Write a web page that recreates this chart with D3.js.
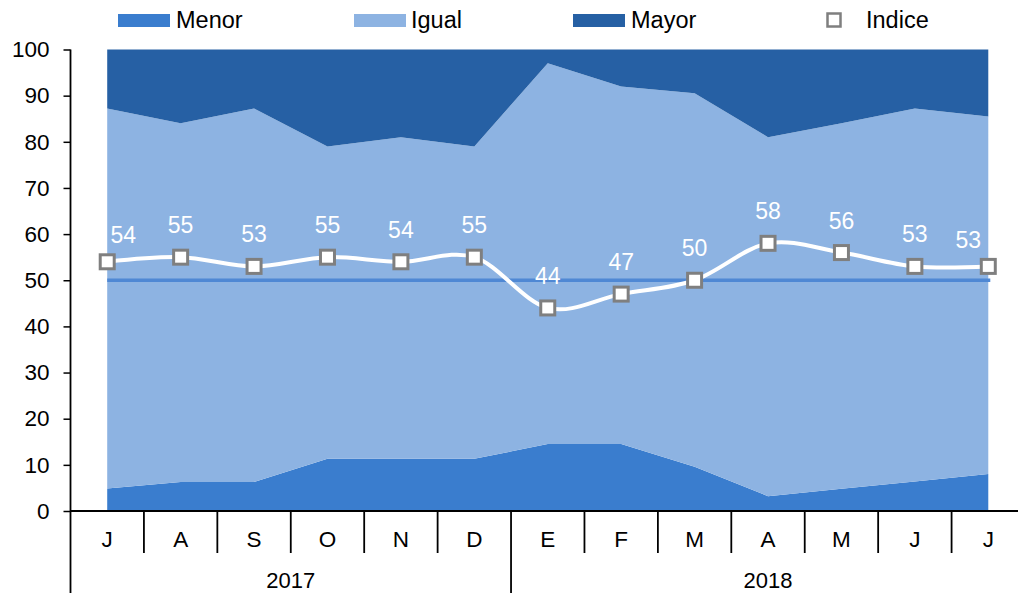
<!DOCTYPE html>
<html>
<head>
<meta charset="utf-8">
<script src="https://cdn.jsdelivr.net/npm/d3@7"></script>
<style>
  html, body { margin: 0; padding: 0; background: #fff; }
  svg text { font-family: "Liberation Sans", Arial, sans-serif; }
</style>
</head>
<body>
<div id="chart"></div>
<script>
// datos
const months = ['J', 'A', 'S', 'O', 'N', 'D', 'E', 'F', 'M', 'A', 'M', 'J', 'J'];
const years = ['2017', '2018'];
const yearStart = [0, 6];          // indice del primer mes de cada año
const menor = [4.9, 6.3, 6.3, 11.3, 11.3, 11.3, 14.5, 14.5, 9.6, 3.2, 4.8, 6.4, 8.0];
const igual = [82.3, 77.7, 80.9, 67.7, 69.7, 67.7, 82.5, 77.5, 80.9, 77.8, 79.2, 80.8, 77.5];
const mayor = [12.8, 16.0, 12.8, 21.0, 19.0, 21.0, 3.0, 8.0, 9.5, 19.0, 16.0, 12.8, 14.5];
const indice = [54, 55, 53, 55, 54, 55, 44, 47, 50, 58, 56, 53, 53];
const refValue = 50;
const yTicks = [0, 10, 20, 30, 40, 50, 60, 70, 80, 90, 100];

const colors = { menor: '#3A7DCE', igual: '#8DB3E2', mayor: '#2660A4' };

const W = 1018, H = 593;
const plotLeft = 70.5, plotTop = 49.5, plotBottom = 511;

const svg = d3.select('#chart').append('svg').attr('width', W).attr('height', H);

const idx = months.map((_, i) => i);
const x = d3.scaleBand().domain(idx).range([plotLeft, 1025]).padding(0);
const cx = i => x(i) + x.bandwidth() / 2;
const y = d3.scaleLinear().domain([0, 100]).range([plotBottom, plotTop]);

// areas apiladas
const rows = idx.map(i => ({ i, menor: menor[i], igual: igual[i], mayor: mayor[i] }));
const series = d3.stack().keys(['menor', 'igual', 'mayor'])(rows);
const area = d3.area().x(d => cx(d.data.i)).y0(d => y(d[0])).y1(d => y(d[1]));
svg.append('g').selectAll('path').data(series).enter().append('path')
    .attr('d', area)
    .attr('fill', d => colors[d.key]);

// linea de referencia 50
svg.append('line')
    .attr('x1', cx(0)).attr('x2', cx(months.length - 1) + 2)
    .attr('y1', y(refValue)).attr('y2', y(refValue))
    .attr('stroke', '#4F88D4').attr('stroke-width', 3.5);

// indice
const line = d3.line().x((d, i) => cx(i)).y(d => y(d)).curve(d3.curveCardinal.tension(0));
svg.append('path').datum(indice)
    .attr('d', line)
    .attr('fill', 'none').attr('stroke', '#fff').attr('stroke-width', 4);

svg.append('g').selectAll('rect').data(indice).enter().append('rect')
    .attr('x', (d, i) => cx(i) - 7).attr('y', d => y(d) - 7)
    .attr('width', 14).attr('height', 14)
    .attr('fill', '#fff').attr('stroke', '#7F7F7F').attr('stroke-width', 3);

const last = indice.length - 1;
svg.append('g').selectAll('text').data(indice).enter().append('text')
    .attr('x', (d, i) => cx(i) + (i === 0 ? 16 : i === last ? -20 : 0))
    .attr('y', (d, i) => y(d) - (i === 0 ? 19 : i === last ? 18 : 24))
    .attr('text-anchor', 'middle')
    .attr('fill', '#fff').style('font-size', '23px')
    .text(d => d);

// eje y
const yAxis = svg.append('g').attr('transform', `translate(${plotLeft},0)`)
    .call(d3.axisLeft(y).tickValues(yTicks).tickSize(7).tickPadding(14).tickSizeOuter(0));
yAxis.select('.domain').remove();
yAxis.selectAll('line').attr('stroke', '#000').attr('stroke-width', 1.5);
yAxis.selectAll('text').attr('fill', '#000').style('font-size', '22.5px');
svg.append('line').attr('x1', plotLeft).attr('x2', plotLeft).attr('y1', plotTop).attr('y2', H)
    .attr('stroke', '#000').attr('stroke-width', 1.8);

// eje x
svg.append('line').attr('x1', plotLeft).attr('x2', W).attr('y1', plotBottom).attr('y2', plotBottom)
    .attr('stroke', '#000').attr('stroke-width', 2);
const xAxis = svg.append('g').attr('transform', `translate(0,${plotBottom})`)
    .call(d3.axisBottom(x).tickSize(0).tickPadding(20).tickFormat(i => months[i]));
xAxis.select('.domain').remove();
xAxis.selectAll('text').attr('fill', '#000').style('font-size', '22.5px');

svg.append('g').selectAll('line').data(idx.slice(1)).enter().append('line')
    .attr('x1', i => x(i)).attr('x2', i => x(i))
    .attr('y1', plotBottom).attr('y2', i => yearStart.includes(i) ? H : 553)
    .attr('stroke', '#000').attr('stroke-width', 1.8);

svg.append('g').selectAll('text').data(years).enter().append('text')
    .attr('x', (d, k) => {
        const a = x(yearStart[k]);
        const b = k + 1 < yearStart.length ? x(yearStart[k + 1]) : x(months.length - 1) + x.bandwidth();
        return (a + b) / 2;
    })
    .attr('y', 588)
    .attr('text-anchor', 'middle').attr('fill', '#000').style('font-size', '22px')
    .text(d => d);

// leyenda
const legendItems = [
    { name: 'Menor', key: 'menor', x: 118, tx: 176 },
    { name: 'Igual', key: 'igual', x: 354, tx: 411 },
    { name: 'Mayor', key: 'mayor', x: 573, tx: 631 }
];
const lg = svg.append('g');
lg.selectAll('rect').data(legendItems).enter().append('rect')
    .attr('x', d => d.x).attr('y', 14).attr('width', 52).attr('height', 13)
    .attr('fill', d => colors[d.key]);
lg.selectAll('text').data(legendItems).enter().append('text')
    .attr('x', d => d.tx).attr('y', 28)
    .attr('fill', '#000').style('font-size', '23.5px')
    .text(d => d.name);
lg.append('rect').attr('x', 827.5).attr('y', 13.5).attr('width', 13).attr('height', 13)
    .attr('fill', '#fff').attr('stroke', '#7F7F7F').attr('stroke-width', 2.5);
lg.append('text').attr('x', 866).attr('y', 28)
    .attr('fill', '#000').style('font-size', '23.5px').text('Indice');
</script>
</body>
</html>
